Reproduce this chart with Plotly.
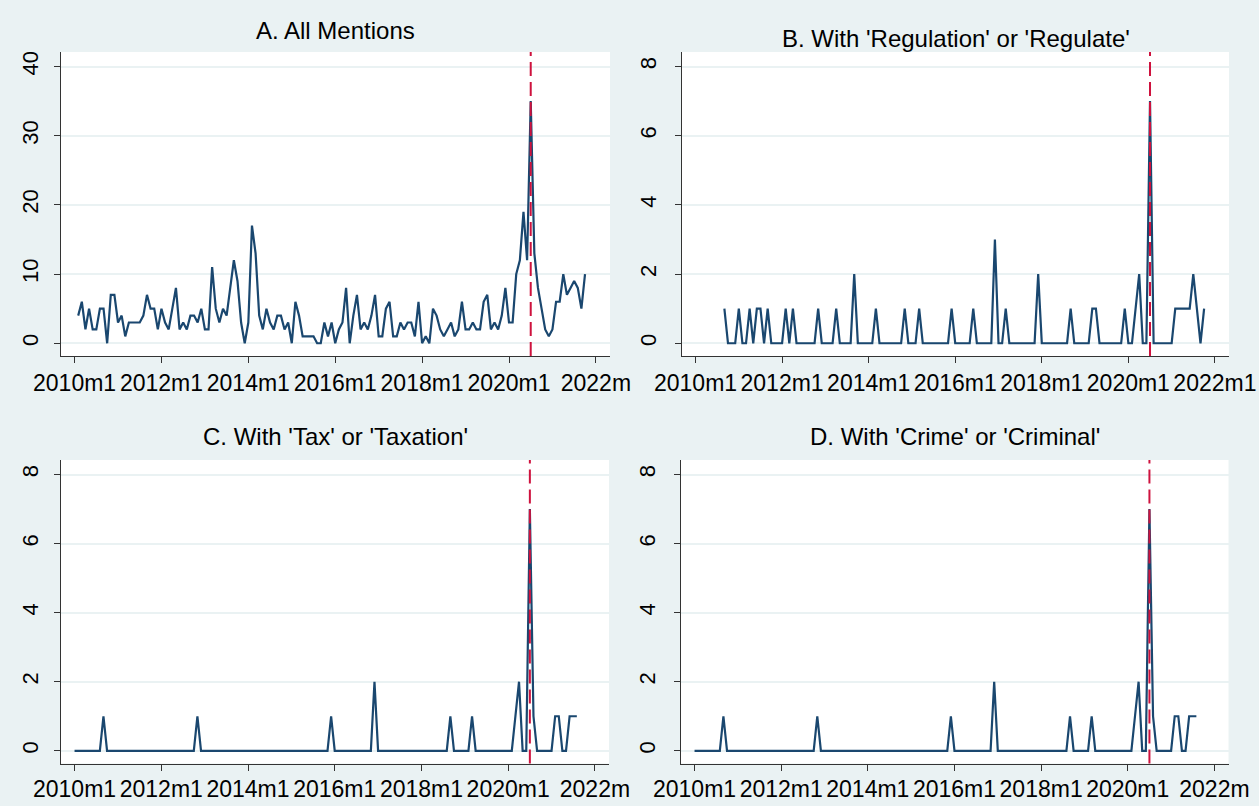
import plotly.graph_objects as go

# ---------------- data (monthly counts) ----------------
tick_labels = ["2010m1", "2012m1", "2014m1", "2016m1", "2018m1", "2020m1", "2022m1"]
event_month = "2020m7"

titles = ["A. All Mentions",
          "B. With 'Regulation' or 'Regulate'",
          "C. With 'Tax' or 'Taxation'",
          "D. With 'Crime' or 'Criminal'"]

start_A = "2010m2"
values_A = [4, 6, 2, 5, 2, 2, 5, 5, 0, 7,
            7, 3, 4, 1, 3, 3, 3, 3, 4, 7,
            5, 5, 2, 5, 3, 2, 5, 8, 2, 3,
            2, 4, 4, 3, 5, 2, 2, 11, 5, 3,
            5, 4, 8, 12, 9, 3, 0, 3, 17, 13,
            4, 2, 5, 3, 2, 4, 4, 2, 3, 0,
            6, 4, 1, 1, 1, 1, 0, 0, 3, 1,
            3, 0, 2, 3, 8, 0, 4, 7, 2, 3,
            2, 4, 7, 1, 1, 5, 6, 1, 1, 3,
            2, 3, 3, 1, 6, 0, 1, 0, 5, 4,
            2, 1, 2, 3, 1, 2, 6, 2, 2, 3,
            2, 2, 6, 7, 2, 3, 2, 4, 8, 3,
            3, 10, 12, 19, 12, 35, 13, 8, 5, 2,
            1, 2, 6, 6, 10, 7, 8, 9, 8, 5,
            10]

start_B = "2010m9"
values_B = [1, 0, 0, 0, 1, 0, 0, 1, 0, 1,
            1, 0, 1, 0, 0, 0, 0, 1, 0, 1,
            0, 0, 0, 0, 0, 0, 1, 0, 0, 0,
            0, 1, 0, 0, 0, 0, 2, 0, 0, 0,
            0, 0, 1, 0, 0, 0, 0, 0, 0, 0,
            1, 0, 0, 0, 1, 0, 0, 0, 0, 0,
            0, 0, 0, 1, 0, 0, 0, 0, 0, 1,
            0, 0, 0, 0, 0, 3, 0, 0, 1, 0,
            0, 0, 0, 0, 0, 0, 0, 2, 0, 0,
            0, 0, 0, 0, 0, 0, 1, 0, 0, 0,
            0, 0, 1, 1, 0, 0, 0, 0, 0, 0,
            0, 1, 0, 0, 1, 2, 0, 0, 7, 0,
            0, 0, 0, 0, 0, 1, 1, 1, 1, 1,
            2, 1, 0, 1]

start_C = "2010m1"
values_C = [0, 0, 0, 0, 0, 0, 0, 0, 1, 0,
            0, 0, 0, 0, 0, 0, 0, 0, 0, 0,
            0, 0, 0, 0, 0, 0, 0, 0, 0, 0,
            0, 0, 0, 0, 1, 0, 0, 0, 0, 0,
            0, 0, 0, 0, 0, 0, 0, 0, 0, 0,
            0, 0, 0, 0, 0, 0, 0, 0, 0, 0,
            0, 0, 0, 0, 0, 0, 0, 0, 0, 0,
            0, 1, 0, 0, 0, 0, 0, 0, 0, 0,
            0, 0, 0, 2, 0, 0, 0, 0, 0, 0,
            0, 0, 0, 0, 0, 0, 0, 0, 0, 0,
            0, 0, 0, 0, 1, 0, 0, 0, 0, 0,
            1, 0, 0, 0, 0, 0, 0, 0, 0, 0,
            0, 0, 1, 2, 0, 0, 7, 1, 0, 0,
            0, 0, 0, 1, 1, 0, 0, 1, 1, 1]

start_D = "2010m1"
values_D = [0, 0, 0, 0, 0, 0, 0, 0, 1, 0,
            0, 0, 0, 0, 0, 0, 0, 0, 0, 0,
            0, 0, 0, 0, 0, 0, 0, 0, 0, 0,
            0, 0, 0, 0, 1, 0, 0, 0, 0, 0,
            0, 0, 0, 0, 0, 0, 0, 0, 0, 0,
            0, 0, 0, 0, 0, 0, 0, 0, 0, 0,
            0, 0, 0, 0, 0, 0, 0, 0, 0, 0,
            0, 1, 0, 0, 0, 0, 0, 0, 0, 0,
            0, 0, 0, 2, 0, 0, 0, 0, 0, 0,
            0, 0, 0, 0, 0, 0, 0, 0, 0, 0,
            0, 0, 0, 0, 1, 0, 0, 0, 0, 0,
            1, 0, 0, 0, 0, 0, 0, 0, 0, 0,
            0, 0, 1, 2, 0, 0, 7, 1, 0, 0,
            0, 0, 0, 1, 1, 0, 0, 1, 1, 1]

yticks_A = [0, 10, 20, 30, 40]
yticks_BCD = [0, 2, 4, 6, 8]


# ---------------- helpers ----------------
def month_index(label):
    """Stata-style monthly label 'YYYYmM' -> months since 2010m1."""
    y, m = label.split("m")
    return (int(y) - 2010) * 12 + int(m) - 1


def series_x(start, n):
    s = month_index(start)
    return [s + i for i in range(n)]


W, H = 1259, 806
BG = "#EAF2F3"
NAVY = "#1A476F"
RED = "rgb(206,18,62)"
FONT = "Liberation Sans, Arial, sans-serif"

# pixel boxes of the plot regions: (left, right, top, bottom)
boxes = [(61, 610, 52, 356), (682, 1229, 52, 356),
         (61, 609, 460, 763.5), (681, 1228.5, 460, 763.5)]
title_y = [30, 38, 437, 437]
ystandoff = [7, 10, 7, 10]
xstandoff = [0, 0, -1, -1]

panels = [(start_A, values_A, yticks_A, [-1.84, 42.1], "2022m"),
          (start_B, values_B, yticks_BCD, [-0.368, 8.42], "2022m1"),
          (start_C, values_C, yticks_BCD, [-0.368, 8.42], "2022m"),
          (start_D, values_D, yticks_BCD, [-0.368, 8.42], "2022m")]

tickvals_x = [month_index(t) for t in tick_labels]
xrange_ = [-3.75, 147.9]

fig = go.Figure()
layout = dict(width=W, height=H, margin=dict(l=0, r=0, t=0, b=0, autoexpand=False),
              paper_bgcolor=BG, plot_bgcolor="white", showlegend=False,
              font=dict(family=FONT, color="black"))
annotations = []
shapes = []

for i, ((start, vals, yt, yr, last_lbl), box, ty, title, ys, xs) in enumerate(
        zip(panels, boxes, title_y, titles, ystandoff, xstandoff)):
    k = "" if i == 0 else str(i + 1)
    xa, ya = "x" + k, "y" + k
    fig.add_trace(go.Scatter(x=series_x(start, len(vals)), y=vals, mode="lines",
                             line=dict(color=NAVY, width=2.2), xaxis=xa, yaxis=ya,
                             hoverinfo="x+y"))
    l, r, t, b = box
    ttext = tick_labels[:-1] + [last_lbl]
    layout["xaxis" + k] = dict(domain=[l / W, r / W], anchor=ya, range=xrange_,
                               automargin=False,
                               tickvals=tickvals_x, ticktext=ttext, ticks="outside",
                               ticklen=6, tickwidth=1.2, tickcolor="#333",
                               ticklabelstandoff=xs,
                               showline=True, linecolor="#333", linewidth=1.2,
                               showgrid=False, zeroline=False,
                               tickfont=dict(size=23, family=FONT, color="black"))
    layout["yaxis" + k] = dict(domain=[1 - b / H, 1 - t / H], anchor=xa, range=yr,
                               automargin=False,
                               tickvals=yt, ticks="outside", ticklen=6, tickwidth=1.2,
                               tickcolor="#333", tickangle=-90,
                               ticklabelstandoff=ys,
                               showline=True, linecolor="#333", linewidth=1.2,
                               showgrid=True, gridcolor=BG, gridwidth=1.5,
                               zeroline=False,
                               tickfont=dict(size=22, family=FONT, color="black"))
    annotations.append(dict(text=title, x=(l + r) / 2 / W, y=1 - ty / H,
                            xref="paper", yref="paper", showarrow=False,
                            xanchor="center", yanchor="middle",
                            font=dict(size=24, family=FONT, color="black")))
    ev = month_index(event_month)
    shapes.append(dict(type="line", xref=xa, yref=ya + " domain", x0=ev, x1=ev,
                       y0=0, y1=1, layer="above",
                       line=dict(color=RED, width=2, dash="14px,6px")))

layout["annotations"] = annotations
layout["shapes"] = shapes
fig.update_layout(**layout)
fig.write_html("out.html",
               config={"displayModeBar": False},
               post_script="document.body.style.margin='0px';"
                           "document.body.style.overflow='hidden';"
                           "document.body.style.background='" + BG + "';")
